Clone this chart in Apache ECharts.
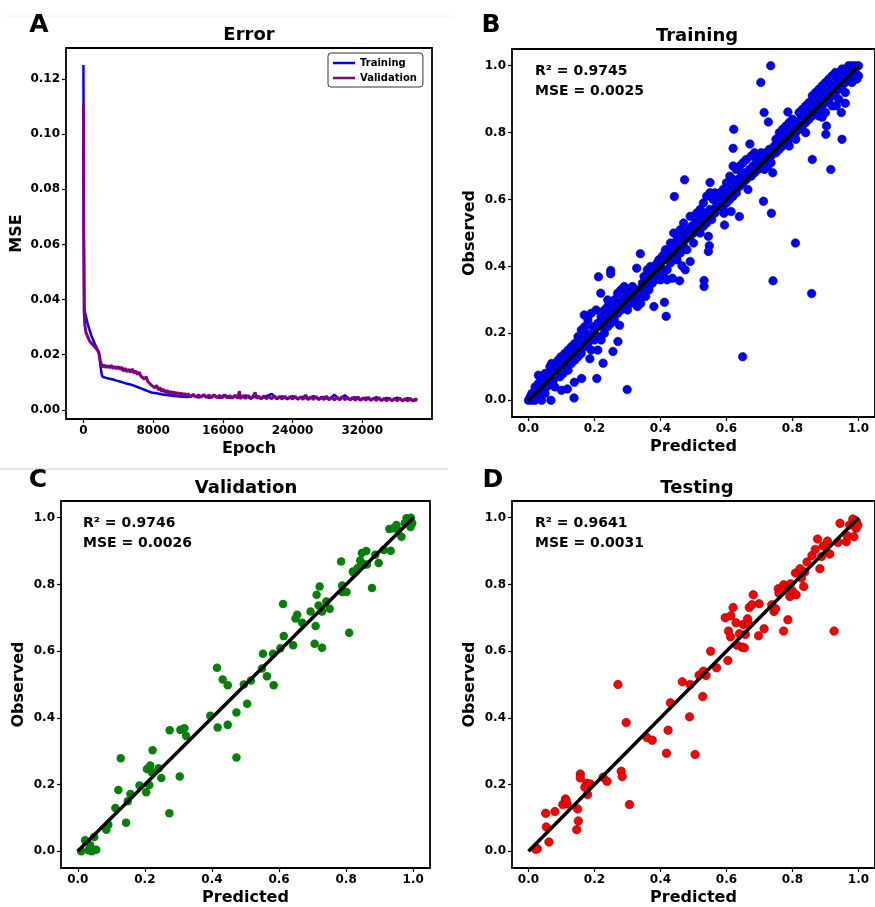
<!DOCTYPE html>
<html>
<head>
<meta charset="utf-8">
<script src="https://cdn.jsdelivr.net/npm/echarts@6/dist/echarts.min.js"></script>
<style>
  html, body { margin: 0; padding: 0; background: #fff; }
  #chart { width: 875px; height: 907px; }
</style>
</head>
<body>
<div id="chart"></div>
<script>
// ---- Panel A: loss history, [epoch, MSE] ----
const trainingLoss = [
  [0,0.125],[40,0.07],[100,0.037],[200,0.035],[350,0.033],[500,0.031],[700,0.029],[900,0.027],
  [1100,0.0255],[1300,0.024],[1450,0.023],[1600,0.022],[1800,0.0205],[1950,0.016],[2100,0.0128],
  [2200,0.0120],[2400,0.0125],[2600,0.0116],[2800,0.0122],[3000,0.0113],[3200,0.0119],[3400,0.0110],
  [3600,0.0116],[3800,0.0106],[4000,0.0113],[4200,0.0103],[4400,0.0110],[4600,0.0099],[4800,0.0106],
  [5000,0.0095],[5200,0.0102],[5400,0.0092],[5600,0.0098],[5800,0.0088],[6000,0.0094],[6200,0.0083],
  [6400,0.0089],[6600,0.0078],[6800,0.0084],[7000,0.0073],[7200,0.0078],[7400,0.0068],[7600,0.0073],
  [7800,0.0063],[8000,0.0067],[8400,0.0060],[8800,0.0058],[9200,0.0055],[9600,0.0054],[10000,0.0052],
  [11000,0.0049],[12000,0.0047],[12600,0.0052],[13200,0.0045],[13800,0.0053],[14400,0.0044],
  [15000,0.0052],[15600,0.0043],[16200,0.0055],[16800,0.0043],[17400,0.0051],[18000,0.0042],
  [18600,0.0053],[19200,0.0041],[19800,0.0051],[20400,0.0041],[21000,0.0050],[21600,0.0058],
  [22200,0.0040],[22800,0.0049],[23400,0.0039],[24000,0.0050],[24600,0.0039],[25200,0.0048],
  [25800,0.0038],[26400,0.0050],[27000,0.0038],[27600,0.0047],[28200,0.0037],[28800,0.0055],
  [29400,0.0037],[30000,0.0053],[30600,0.0036],[31200,0.0046],[31800,0.0035],[32400,0.0045],
  [33000,0.0035],[33600,0.0047],[34200,0.0034],[34800,0.0044],[35400,0.0034],[36000,0.0045],
  [36600,0.0033],[37200,0.0043],[37800,0.0033],[38300,0.0036]
];
const validationLoss = [
  [0,0.111],[30,0.065],[80,0.036],[150,0.031],[300,0.028],[500,0.0265],[700,0.025],[900,0.0242],
  [1100,0.0235],[1300,0.0229],[1500,0.0222],[1700,0.0212],[1850,0.0195],[1950,0.0178],[2050,0.0165],
  [2200,0.0155],[2400,0.0163],[2600,0.0153],[2800,0.0161],[3000,0.0152],[3200,0.0162],[3400,0.0150],
  [3600,0.0158],[3800,0.0149],[4000,0.0157],[4200,0.0146],[4400,0.0155],[4600,0.0140],[4800,0.0151],
  [5000,0.0138],[5200,0.0147],[5400,0.0136],[5600,0.0149],[5800,0.0133],[6000,0.0141],[6200,0.0128],
  [6400,0.0137],[6600,0.0122],[6800,0.0129],[7000,0.0112],[7200,0.0120],[7400,0.0102],[7600,0.0109],
  [7800,0.0090],[8000,0.0097],[8200,0.0080],[8400,0.0089],[8600,0.0072],[8800,0.0081],[9000,0.0066],
  [9200,0.0075],[9400,0.0062],[9600,0.0071],[9800,0.0059],[10000,0.0068],[10200,0.0057],[10400,0.0066],
  [10600,0.0055],[10800,0.0064],[11000,0.0053],[11200,0.0062],[11400,0.0052],[11600,0.0060],
  [11800,0.0051],[12000,0.0059],[12300,0.0047],[12600,0.0057],[12900,0.0046],[13200,0.0055],
  [13500,0.0046],[13800,0.0056],[14100,0.0045],[14400,0.0054],[14700,0.0044],[15000,0.0055],
  [15300,0.0044],[15600,0.0053],[15900,0.0043],[16200,0.0054],[16500,0.0043],[16800,0.0052],
  [17100,0.0042],[17400,0.0053],[17700,0.0042],[17900,0.0068],[18000,0.0042],[18300,0.0052],
  [18600,0.0041],[18900,0.0052],[19200,0.0041],[19500,0.0051],[19700,0.0063],[19900,0.0041],
  [20100,0.0050],[20400,0.0040],[20700,0.0051],[21000,0.0040],[21300,0.0049],[21600,0.0040],
  [21900,0.0052],[22200,0.0039],[22500,0.0049],[22800,0.0039],[23100,0.0050],[23400,0.0039],
  [23700,0.0048],[24000,0.0039],[24300,0.0050],[24600,0.0038],[24900,0.0048],[25200,0.0038],
  [25500,0.0054],[25800,0.0038],[26100,0.0047],[26400,0.0038],[26700,0.0049],[27000,0.0037],
  [27300,0.0046],[27600,0.0037],[27900,0.0050],[28200,0.0037],[28500,0.0046],[28800,0.0036],
  [29100,0.0047],[29400,0.0036],[29700,0.0049],[30000,0.0036],[30300,0.0045],[30600,0.0036],
  [30900,0.0046],[31200,0.0035],[31500,0.0047],[31800,0.0035],[32100,0.0044],[32400,0.0035],
  [32700,0.0046],[33000,0.0034],[33300,0.0043],[33600,0.0034],[33900,0.0045],[34200,0.0034],
  [34500,0.0042],[34800,0.0033],[35100,0.0043],[35400,0.0033],[35700,0.0042],[36000,0.0033],
  [36300,0.0043],[36600,0.0032],[36900,0.0041],[37200,0.0032],[37500,0.0042],[37800,0.0032],
  [38100,0.0040],[38300,0.0035]
];
const epochTicks = [0, 8000, 16000, 24000, 32000];
const mseTicks = [0, 0.02, 0.04, 0.06, 0.08, 0.10, 0.12];

// ---- Panels B-D: [predicted, observed] ----
const trainingPoints = [
  [0.00,0.00],[0.01,0.00],[0.005,0.01],[0.01,0.02],[0.015,0.005],[0.02,0.04],[0.025,0.01],[0.02,0.00],
  [0.03,0.05],[0.035,0.02],[0.03,0.075],[0.04,0.03],[0.045,0.06],[0.04,0.00],[0.05,0.08],[0.055,0.04],
  [0.05,0.02],[0.06,0.07],[0.065,0.10],[0.06,0.045],[0.068,0.00],[0.07,0.11],[0.075,0.06],[0.072,0.09],
  [0.08,0.09],[0.085,0.11],[0.08,0.04],[0.09,0.12],[0.095,0.07],[0.09,0.10],[0.098,0.13],[0.10,0.11],
  [0.105,0.08],[0.10,0.03],[0.11,0.14],[0.115,0.10],[0.11,0.12],[0.12,0.15],[0.125,0.13],[0.12,0.09],
  [0.13,0.16],[0.13,0.11],[0.135,0.14],[0.14,0.12],[0.14,0.17],[0.145,0.15],[0.15,0.19],[0.15,0.13],
  [0.155,0.16],[0.16,0.14],[0.16,0.21],[0.165,0.18],[0.17,0.22],[0.17,0.16],[0.175,0.20],[0.18,0.17],
  [0.18,0.24],[0.185,0.19],[0.19,0.26],[0.19,0.15],[0.195,0.22],[0.20,0.21],[0.20,0.18],[0.205,0.27],
  [0.21,0.23],[0.215,0.19],[0.21,0.15],[0.22,0.25],[0.225,0.22],[0.22,0.18],[0.23,0.27],[0.235,0.24],
  [0.23,0.20],[0.24,0.28],[0.245,0.25],[0.24,0.22],[0.24,0.30],[0.25,0.26],[0.255,0.29],[0.25,0.23],
  [0.26,0.30],[0.265,0.27],[0.26,0.24],[0.27,0.32],[0.275,0.29],[0.27,0.26],[0.28,0.33],[0.285,0.30],
  [0.28,0.27],[0.29,0.34],[0.295,0.31],[0.29,0.28],[0.30,0.33],[0.305,0.30],[0.30,0.27],[0.31,0.32],
  [0.315,0.34],[0.31,0.29],[0.32,0.31],[0.325,0.29],[0.32,0.33],[0.33,0.28],[0.335,0.30],[0.33,0.33],
  [0.34,0.32],[0.345,0.35],[0.34,0.29],[0.35,0.34],[0.355,0.31],[0.35,0.37],[0.36,0.36],[0.365,0.33],
  [0.36,0.39],[0.37,0.37],[0.375,0.35],[0.37,0.40],[0.38,0.39],[0.385,0.36],[0.38,0.28],[0.39,0.41],
  [0.39,0.38],[0.395,0.42],[0.40,0.36],[0.40,0.40],[0.405,0.43],[0.41,0.38],[0.41,0.42],[0.415,0.45],
  [0.42,0.39],[0.42,0.36],[0.425,0.44],[0.43,0.41],[0.43,0.47],[0.435,0.45],[0.44,0.43],[0.44,0.50],
  [0.445,0.46],[0.45,0.42],[0.45,0.48],[0.455,0.47],[0.46,0.44],[0.46,0.51],[0.465,0.49],[0.47,0.46],
  [0.47,0.53],[0.475,0.48],[0.48,0.50],[0.48,0.45],[0.485,0.51],[0.49,0.49],[0.49,0.55],[0.495,0.52],
  [0.50,0.50],[0.50,0.47],[0.505,0.53],[0.51,0.51],[0.51,0.56],[0.515,0.54],[0.52,0.50],[0.52,0.57],
  [0.525,0.55],[0.53,0.52],[0.53,0.59],[0.535,0.56],[0.54,0.53],[0.54,0.61],[0.545,0.49],[0.55,0.57],
  [0.555,0.54],[0.55,0.62],[0.56,0.60],[0.565,0.56],[0.565,0.62],[0.57,0.58],[0.575,0.61],[0.58,0.62],
  [0.585,0.60],[0.59,0.57],[0.59,0.63],[0.595,0.61],[0.60,0.59],[0.60,0.65],[0.605,0.62],[0.61,0.60],
  [0.61,0.67],[0.615,0.63],[0.62,0.61],[0.62,0.66],[0.62,0.70],[0.625,0.64],[0.63,0.62],[0.63,0.69],
  [0.635,0.66],[0.64,0.64],[0.64,0.70],[0.645,0.67],[0.65,0.65],[0.65,0.71],[0.655,0.68],[0.66,0.66],
  [0.66,0.72],[0.665,0.63],[0.67,0.69],[0.675,0.67],[0.675,0.73],[0.68,0.70],[0.685,0.68],[0.685,0.74],
  [0.69,0.71],[0.695,0.69],[0.695,0.73],[0.70,0.72],[0.705,0.70],[0.705,0.74],[0.71,0.73],[0.715,0.71],
  [0.715,0.69],[0.72,0.74],[0.725,0.72],[0.725,0.70],[0.73,0.75],[0.735,0.73],[0.735,0.71],[0.74,0.68],
  [0.745,0.76],[0.75,0.74],[0.75,0.78],[0.755,0.77],[0.76,0.75],[0.76,0.80],[0.765,0.78],[0.77,0.76],
  [0.77,0.81],[0.775,0.79],[0.78,0.77],[0.78,0.82],[0.785,0.80],[0.79,0.78],[0.79,0.83],[0.79,0.76],
  [0.795,0.81],[0.80,0.79],[0.80,0.84],[0.805,0.82],[0.81,0.80],[0.81,0.78],[0.815,0.83],[0.82,0.81],
  [0.82,0.86],[0.825,0.84],[0.83,0.82],[0.83,0.87],[0.835,0.85],[0.84,0.83],[0.84,0.88],[0.84,0.80],
  [0.845,0.86],[0.85,0.84],[0.85,0.89],[0.855,0.87],[0.86,0.85],[0.86,0.91],[0.865,0.88],[0.87,0.86],
  [0.87,0.92],[0.875,0.89],[0.88,0.87],[0.88,0.93],[0.88,0.85],[0.885,0.90],[0.89,0.88],[0.89,0.94],
  [0.895,0.91],[0.90,0.89],[0.90,0.95],[0.90,0.86],[0.905,0.92],[0.91,0.90],[0.91,0.96],[0.915,0.93],
  [0.92,0.91],[0.92,0.97],[0.92,0.88],[0.925,0.94],[0.93,0.92],[0.93,0.98],[0.935,0.95],[0.94,0.93],
  [0.94,0.97],[0.94,0.90],[0.945,0.96],[0.95,0.94],[0.95,0.99],[0.955,0.97],[0.96,0.95],[0.96,0.99],
  [0.96,0.92],[0.965,0.98],[0.97,0.96],[0.97,1.00],[0.975,0.99],[0.98,0.97],[0.98,1.00],[0.98,0.95],
  [0.985,0.99],[0.99,0.98],[0.99,1.00],[1.00,1.00],[1.00,0.97],[0.995,0.96],
  // points away from the main band
  [0.734,1.00],[0.704,0.950],[0.714,0.860],[0.727,0.832],[0.786,0.862],[0.622,0.810],[0.620,0.753],
  [0.671,0.766],[0.903,0.820],[0.901,0.795],[0.950,0.780],[0.860,0.720],[0.916,0.690],[0.712,0.595],
  [0.736,0.559],[0.639,0.549],[0.594,0.524],[0.809,0.470],[0.741,0.357],[0.858,0.319],[0.649,0.130],
  [0.532,0.358],[0.532,0.340],[0.473,0.659],[0.442,0.609],[0.550,0.651],[0.339,0.438],[0.413,0.440],
  [0.212,0.369],[0.249,0.388],[0.249,0.378],[0.219,0.320],[0.328,0.395],[0.412,0.293],[0.417,0.251],
  [0.276,0.224],[0.271,0.176],[0.256,0.146],[0.226,0.111],[0.207,0.065],[0.299,0.032],[0.138,0.007],
  [0.161,0.065],[0.139,0.054],[0.118,0.034],[0.169,0.255],[0.186,0.124],[0.465,0.402],[0.490,0.415],
  [0.475,0.390],[0.458,0.357],[0.436,0.365],[0.548,0.462],[0.545,0.445],[0.592,0.559],[0.614,0.564],
  [0.948,0.860],[0.960,0.888],[0.933,0.880],[0.890,0.846]
];
const validationPoints = [
  [0.010,0.000],[0.022,0.033],[0.032,0.003],[0.037,0.018],[0.049,0.043],[0.055,0.005],[0.042,0.000],
  [0.085,0.065],[0.091,0.080],[0.112,0.130],[0.121,0.184],[0.128,0.279],[0.144,0.086],[0.149,0.150],
  [0.157,0.172],[0.184,0.197],[0.204,0.177],[0.206,0.247],[0.213,0.199],[0.216,0.257],[0.221,0.237],
  [0.223,0.303],[0.241,0.249],[0.249,0.220],[0.273,0.114],[0.274,0.363],[0.304,0.224],[0.306,0.364],
  [0.318,0.369],[0.323,0.346],[0.395,0.406],[0.417,0.371],[0.415,0.550],[0.432,0.515],[0.447,0.498],
  [0.447,0.379],[0.473,0.416],[0.473,0.281],[0.495,0.500],[0.505,0.442],[0.516,0.512],[0.552,0.592],
  [0.549,0.548],[0.564,0.525],[0.584,0.498],[0.582,0.592],[0.604,0.609],[0.612,0.741],[0.614,0.645],
  [0.642,0.618],[0.649,0.698],[0.654,0.709],[0.669,0.685],[0.694,0.719],[0.709,0.675],[0.706,0.622],
  [0.712,0.769],[0.718,0.737],[0.721,0.794],[0.728,0.719],[0.728,0.610],[0.741,0.749],[0.751,0.727],
  [0.785,0.869],[0.788,0.797],[0.788,0.777],[0.801,0.777],[0.809,0.655],[0.822,0.836],[0.834,0.849],
  [0.842,0.872],[0.847,0.894],[0.860,0.900],[0.854,0.860],[0.862,0.860],[0.877,0.789],[0.887,0.889],
  [0.897,0.864],[0.912,0.903],[0.929,0.966],[0.933,0.901],[0.940,0.968],[0.950,0.978],[0.965,0.943],
  [0.955,0.963],[0.975,0.983],[0.980,0.998],[0.990,0.988],[0.992,0.972],[0.993,1.000],[0.997,0.983],
  [0.820,0.839]
];
const testingPoints = [
  [0.027,0.008],[0.022,0.006],[0.052,0.114],[0.054,0.073],[0.062,0.028],[0.080,0.119],[0.104,0.140],
  [0.112,0.157],[0.117,0.142],[0.114,0.152],[0.149,0.127],[0.151,0.091],[0.146,0.065],[0.157,0.232],
  [0.157,0.220],[0.177,0.204],[0.179,0.170],[0.171,0.192],[0.187,0.202],[0.226,0.222],[0.238,0.210],
  [0.271,0.500],[0.281,0.240],[0.284,0.224],[0.296,0.386],[0.306,0.140],[0.359,0.341],[0.375,0.333],
  [0.418,0.294],[0.423,0.363],[0.430,0.445],[0.466,0.508],[0.488,0.403],[0.490,0.500],[0.505,0.290],
  [0.517,0.528],[0.528,0.464],[0.530,0.540],[0.538,0.527],[0.552,0.600],[0.570,0.550],[0.596,0.700],
  [0.604,0.572],[0.606,0.660],[0.612,0.643],[0.613,0.706],[0.620,0.731],[0.629,0.685],[0.632,0.618],
  [0.639,0.652],[0.647,0.612],[0.654,0.610],[0.657,0.650],[0.651,0.680],[0.664,0.697],[0.667,0.682],
  [0.669,0.731],[0.677,0.739],[0.681,0.769],[0.697,0.646],[0.699,0.742],[0.714,0.667],[0.737,0.739],
  [0.744,0.719],[0.749,0.727],[0.757,0.787],[0.759,0.774],[0.773,0.660],[0.773,0.799],[0.771,0.781],
  [0.786,0.694],[0.792,0.764],[0.794,0.802],[0.799,0.781],[0.811,0.769],[0.809,0.834],[0.823,0.847],
  [0.827,0.819],[0.834,0.794],[0.837,0.837],[0.844,0.867],[0.859,0.887],[0.869,0.905],[0.876,0.936],
  [0.883,0.847],[0.888,0.884],[0.893,0.915],[0.906,0.930],[0.913,0.891],[0.926,0.660],[0.938,0.926],
  [0.944,0.983],[0.963,0.928],[0.966,0.946],[0.973,0.978],[0.986,0.943],[0.983,0.996],[0.993,0.968],
  [0.993,0.990],[0.998,0.978]
];
const identityLine = [[0, 0], [1, 1]];
const unitTicks = [0, 0.2, 0.4, 0.6, 0.8, 1.0];

const panelStats = {
  B: ['R\u00B2 = 0.9745', 'MSE = 0.0025'],
  C: ['R\u00B2 = 0.9746', 'MSE = 0.0026'],
  D: ['R\u00B2 = 0.9641', 'MSE = 0.0031']
};

const FONT = '"DejaVu Sans", "Liberation Sans", sans-serif';

// plot rectangles, in px
const grids = [
  { left: 66,  top: 48,  width: 366, height: 371 },  // A
  { left: 512, top: 49,  width: 369, height: 368 },  // B
  { left: 61,  top: 501, width: 369, height: 369 },  // C
  { left: 512, top: 501, width: 369, height: 368 }   // D
];

function valueAxis(gridIndex, min, max, ticks, fmt, name, nameGap) {
  return {
    type: 'value', gridIndex, min, max,
    name, nameLocation: 'middle', nameGap,
    nameTextStyle: { fontFamily: FONT, fontWeight: 'bold', fontSize: 16, color: '#000' },
    splitLine: { show: false },
    axisLine: { show: false, onZero: false },
    axisTick: { show: true, inside: false, length: 4, customValues: ticks,
                lineStyle: { color: '#000', width: 1.2 } },
    axisLabel: { customValues: ticks, formatter: fmt, color: '#000', fontFamily: FONT,
                 fontWeight: 'bold', fontSize: 12, margin: 6 }
  };
}

const fmt1 = v => v.toFixed(1);
const fmt2 = v => v.toFixed(2);
const fmt0 = v => String(Math.round(v));

const xAxes = [
  valueAxis(0, -2000, 40000, epochTicks, fmt0, 'Epoch', 22),
  valueAxis(1, -0.05, 1.05, unitTicks, fmt1, 'Predicted', 22),
  valueAxis(2, -0.05, 1.05, unitTicks, fmt1, 'Predicted', 22),
  valueAxis(3, -0.05, 1.05, unitTicks, fmt1, 'Predicted', 22)
];
const yAxes = [
  valueAxis(0, -0.0033, 0.1312, mseTicks, fmt2, 'MSE', 41),
  valueAxis(1, -0.05, 1.05, unitTicks, fmt1, 'Observed', 34),
  valueAxis(2, -0.05, 1.05, unitTicks, fmt1, 'Observed', 34),
  valueAxis(3, -0.05, 1.05, unitTicks, fmt1, 'Observed', 34)
];

function scatterSeries(idx, data, fill, border) {
  return {
    type: 'scatter', xAxisIndex: idx, yAxisIndex: idx, data,
    symbolSize: 8.5, z: 2,
    itemStyle: { color: fill, borderColor: border, borderWidth: border ? 0.6 : 0, opacity: 1 }
  };
}
function fitLine(idx) {
  return {
    type: 'line', xAxisIndex: idx, yAxisIndex: idx, data: identityLine,
    showSymbol: false, z: 5, silent: true,
    lineStyle: { color: '#000', width: 3.5 }
  };
}

function text(x, y, str, size, align) {
  return {
    type: 'text', z: 100,
    style: { x, y, text: str, fill: '#000', textAlign: align || 'center',
             textVerticalAlign: 'middle', font: 'bold ' + size + 'px ' + FONT }
  };
}

const graphics = [
  { type: 'line', z: 1, shape: { x1: 0, y1: 469, x2: 448, y2: 469 },
    style: { stroke: '#cfcfcf', lineWidth: 1 } },
  { type: 'line', z: 1, shape: { x1: 5, y1: 16, x2: 455, y2: 16 },
    style: { stroke: '#f2f2f2', lineWidth: 1 } },
  text(39, 25, 'A', 25), text(491, 25, 'B', 25),
  text(38, 480, 'C', 25), text(493, 480, 'D', 25),
  text(249, 35, 'Error', 18), text(697, 36, 'Training', 18),
  text(246, 488, 'Validation', 18), text(697, 488, 'Testing', 18),
  text(535, 71, panelStats.B[0], 14, 'left'), text(535, 91, panelStats.B[1], 14, 'left'),
  text(83, 523, panelStats.C[0], 14, 'left'), text(83, 543, panelStats.C[1], 14, 'left'),
  text(535, 523, panelStats.D[0], 14, 'left'), text(535, 543, panelStats.D[1], 14, 'left')
];

const chart = echarts.init(document.getElementById('chart'), null, { renderer: 'canvas' });
chart.setOption({
  animation: false,
  backgroundColor: '#fff',
  grid: grids.map(g => Object.assign({ show: true, borderColor: '#000', borderWidth: 1.8,
                                       backgroundColor: 'transparent' }, g)),
  xAxis: xAxes,
  yAxis: yAxes,
  legend: {
    data: ['Training', 'Validation'],
    orient: 'vertical', left: 328, top: 53,
    icon: 'rect', itemWidth: 22, itemHeight: 2.5, itemGap: 3,
    padding: [4, 6, 3, 5],
    borderColor: '#333', borderWidth: 1, borderRadius: 3, backgroundColor: '#fff',
    textStyle: { fontFamily: FONT, fontWeight: 'bold', fontSize: 10, color: '#000', lineHeight: 12 }
  },
  series: [
    { type: 'line', name: 'Training', xAxisIndex: 0, yAxisIndex: 0, data: trainingLoss,
      showSymbol: false, z: 2, lineStyle: { color: '#0000ff', width: 2.5 }, itemStyle: { color: '#0000ff' } },
    { type: 'line', name: 'Validation', xAxisIndex: 0, yAxisIndex: 0, data: validationLoss,
      showSymbol: false, z: 3, lineStyle: { color: '#800080', width: 3 }, itemStyle: { color: '#800080' } },
    scatterSeries(1, trainingPoints, '#0000ff', '#00007a'),
    fitLine(1),
    scatterSeries(2, validationPoints, '#07800a', null),
    fitLine(2),
    scatterSeries(3, testingPoints, '#ff0000', '#7a0000'),
    fitLine(3)
  ],
  graphic: graphics
});
</script>
</body>
</html>
